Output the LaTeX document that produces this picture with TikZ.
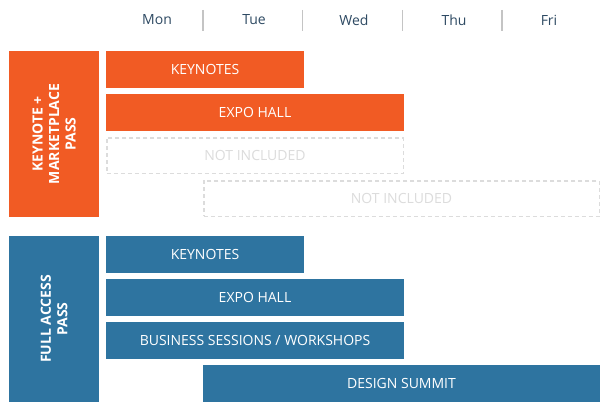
\documentclass[tikz,border=0pt]{standalone}
\usepackage{fontspec}
\setmainfont{Open Sans}
\definecolor{passorange}{HTML}{F15B24}
\definecolor{passblue}{HTML}{2E74A0}
\definecolor{daytext}{HTML}{2E4A63}
\definecolor{sepgray}{HTML}{C4C4C4}
\definecolor{nigray}{HTML}{DCDCDC}
\begin{document}
\begin{tikzpicture}[x=1pt,y=-1pt,
  txt/.style={font=\fontsize{14}{16.5}\selectfont},
  day/.style={txt, text=daytext, inner sep=0pt},
  sepline/.style={draw=sepgray, line width=1.6pt},
  bar/.style={txt, text=white, inner sep=0pt, minimum height=37pt},
  obar/.style={bar, fill=passorange},
  bbar/.style={bar, fill=passblue},
  nibar/.style={txt, text=nigray, inner sep=0pt, minimum height=35.5pt,
    draw=nigray, line width=1.5pt, dash pattern=on 4pt off 3pt},
  passlabel/.style={font=\fontsize{14}{16.5}\selectfont\bfseries, text=white,
    rotate=90, align=center, inner sep=0pt},
]
\useasboundingbox (0,0) rectangle (609,412);
\fill[white] (0,0) rectangle (609,412);

% header
\node[day] (mon) at (157,20) {Mon};
\node[day] (tue) at (254,20) {Tue};
\node[day] (wed) at (354,20) {Wed};
\node[day] (thu) at (454,20) {Thu};
\node[day] (fri) at (549,20) {Fri};
\coordinate (s1a) at (203,10); \coordinate (s1b) at (203,31);
\coordinate (s2a) at (302.5,10); \coordinate (s2b) at (302.5,31);
\coordinate (s3a) at (402.5,10); \coordinate (s3b) at (402.5,31);
\coordinate (s4a) at (502,10); \coordinate (s4b) at (502,31);
\draw[sepline] (s1a) -- (s1b);
\draw[sepline] (s2a) -- (s2b);
\draw[sepline] (s3a) -- (s3b);
\draw[sepline] (s4a) -- (s4b);

% keynote + marketplace pass
\node[fill=passorange, minimum width=90pt, minimum height=166pt, inner sep=0pt] (kmbox) at (54,134) {};
\node[passlabel] (kmlabel) at (kmbox.center) {KEYNOTE +\\MARKETPLACE\\PASS};
\node[obar, minimum width=198pt] (okey) at (205,69.5) {KEYNOTES};
\node[obar, minimum width=298pt] (oexpo) at (255,112.5) {EXPO HALL};
\node[nibar, minimum width=296.5pt] (oni1) at (255,155.5) {NOT INCLUDED};
\node[nibar, minimum width=395.5pt] (oni2) at (401.5,198.5) {NOT INCLUDED};

% full access pass
\node[fill=passblue, minimum width=90pt, minimum height=166pt, inner sep=0pt] (fabox) at (54,319) {};
\node[passlabel] (falabel) at (fabox.center) {FULL ACCESS\\PASS};
\node[bbar, minimum width=198pt] (bkey) at (205,254.5) {KEYNOTES};
\node[bbar, minimum width=298pt] (bexpo) at (255,297.5) {EXPO HALL};
\node[bbar, minimum width=298pt] (bbus) at (255,340.5) {BUSINESS SESSIONS / WORKSHOPS};
\node[bbar, minimum width=397pt] (bdes) at (401.5,383.5) {DESIGN SUMMIT};
\end{tikzpicture}
\end{document}
